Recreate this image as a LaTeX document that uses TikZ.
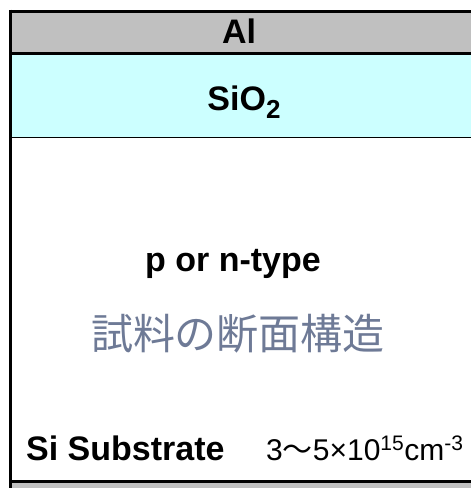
\documentclass[tikz,border=0pt]{standalone}
\usepackage{fontspec}
\setmainfont{Liberation Sans}
\newfontfamily\cjk{Noto Sans CJK JP}
\definecolor{algray}{HTML}{C0C0C0}
\definecolor{oxcyan}{HTML}{CCFFFF}
\definecolor{jpblue}{HTML}{6E7A96}

\tikzset{
    layer label/.style={inner sep=0, anchor=base, font=\fontsize{34}{34}\selectfont\bfseries},
    note label/.style={inner sep=0, anchor=base west},
    thick edge/.style={line width=3pt},
    thin edge/.style={line width=1.5pt}
    }

\begin{document}
\begin{tikzpicture}[x=1pt,y=-1pt]
                \useasboundingbox (0,0) rectangle (471,488);
                % layers
                \fill[algray] (10,11) rectangle (471,53);
                \fill[oxcyan] (10,53) rectangle (471,137.5);
                \fill[algray] (10,481) rectangle (471,488);
                \draw[thick edge] (10,11) -- (471,11);
                \draw[thick edge] (10,53) -- (471,53);
                \draw[thin edge] (10,137.5) -- (471,137.5);
                \draw[thick edge] (10,481) -- (471,481);
                \draw[line width=2.5pt] (10.5,9.5) -- (10.5,488);
                % labels
                \node(al)[layer label] at (239,43) {Al};
                \node(oxide)[layer label] at (244,110) {SiO\raisebox{-0.24em}{\fontsize{26}{26}\selectfont 2}};
                \node(type)[layer label] at (233,271) {p or n-type};
                \node(title)[inner sep=0, text=jpblue, font=\cjk\fontsize{42}{42}\selectfont] at (238,334) {試料の断面構造};
                \node(sub)[note label, font=\fontsize{34}{34}\selectfont\bfseries] at (26,460) {Si Substrate};
                \node(dope)[note label, font=\fontsize{30}{30}\selectfont] at (266,460) {3{\cjk 〜}5×10\textsuperscript{15}cm\textsuperscript{-3}};
            \end{tikzpicture}
\end{document}
